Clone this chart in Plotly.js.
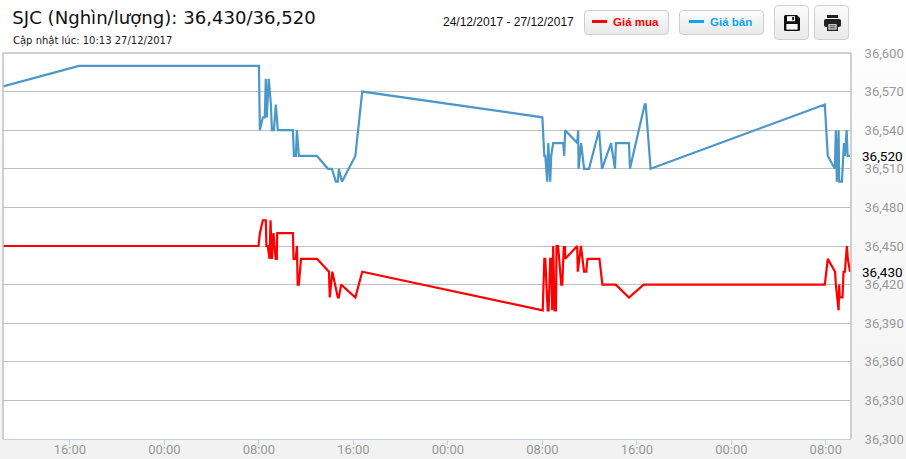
<!DOCTYPE html>
<html><head><meta charset="utf-8">
<script src="https://cdn.plot.ly/plotly-3.0.1.min.js"></script>
<style>
html,body{margin:0;padding:0;width:906px;height:459px;overflow:hidden;background:linear-gradient(#ffffff 0,#fdfdfd 60px,#f2f2f2 459px);}
#chart{position:absolute;left:0;top:0;width:906px;height:459px;}
.btn{position:absolute;box-sizing:border-box;border:1px solid #cfcfcf;border-radius:4px;background:linear-gradient(#fbfbfb,#e9e9e9);}
.leg{top:10px;height:25px;font:bold 11.5px "Liberation Sans",Arial,sans-serif;line-height:23px;}
.leg i{position:absolute;left:7px;top:9px;width:15px;height:3px;}
.leg span{position:absolute;left:28px;top:0;white-space:nowrap;}
.ico{top:5px;width:35px;height:35px;}
.ico svg{position:absolute;left:9px;top:9px;}
</style></head><body>
<div id="chart"></div>
<div class="btn leg" style="left:584px;width:85px;color:#ff0000"><i style="background:#ff0000"></i><span>Giá mua</span></div>
<div class="btn leg" style="left:679px;width:85px;color:#0aa5f5"><i style="background:#0aa5f5;left:9px"></i><span style="left:30px">Giá bán</span></div>
<div class="btn ico" style="left:774px"><svg width="16" height="16" viewBox="0 0 16 16"><path d="M0 1.5A1.5 1.5 0 0 1 1.5 0H13l3 3v11.5a1.5 1.5 0 0 1-1.5 1.5h-13A1.5 1.5 0 0 1 0 14.5z" fill="#111"/><rect x="3" y="1.2" width="8" height="5" fill="#fff"/><rect x="8.2" y="2" width="1.8" height="3.2" fill="#111"/><rect x="2.4" y="9" width="11.2" height="5.6" fill="#fff"/></svg></div>
<div class="btn ico" style="left:814px"><svg width="17" height="16" viewBox="0 0 17 16"><rect x="3" y="0" width="11" height="3" fill="#222"/><rect x="0" y="4" width="17" height="8" rx="2" fill="#222"/><rect x="3" y="8" width="11" height="8" fill="#222"/><rect x="4.4" y="9.2" width="8.2" height="5.4" fill="#eee"/><rect x="5.4" y="10.4" width="6.2" height="1" fill="#222"/><rect x="5.4" y="12.4" width="6.2" height="1" fill="#222"/></svg></div>
<script>
var sellTimes = ["2017-12-24 10:20","2017-12-24 16:46","2017-12-25 08:00","2017-12-25 08:05","2017-12-25 08:20","2017-12-25 08:30","2017-12-25 08:35","2017-12-25 08:40","2017-12-25 08:50","2017-12-25 09:01","2017-12-25 09:06","2017-12-25 09:16","2017-12-25 09:26","2017-12-25 09:36","2017-12-25 10:53","2017-12-25 10:58","2017-12-25 11:08","2017-12-25 11:13","2017-12-25 11:23","2017-12-25 12:55","2017-12-25 13:51","2017-12-25 14:11","2017-12-25 14:31","2017-12-25 14:41","2017-12-25 14:46","2017-12-25 15:02","2017-12-25 16:10","2017-12-25 16:45","2017-12-26 08:00","2017-12-26 08:10","2017-12-26 08:15","2017-12-26 08:25","2017-12-26 08:30","2017-12-26 08:40","2017-12-26 08:45","2017-12-26 08:55","2017-12-26 09:46","2017-12-26 09:51","2017-12-26 09:56","2017-12-26 10:57","2017-12-26 11:02","2017-12-26 11:04","2017-12-26 11:17","2017-12-26 11:32","2017-12-26 11:57","2017-12-26 12:48","2017-12-26 13:03","2017-12-26 13:49","2017-12-26 14:09","2017-12-26 14:14","2017-12-26 15:20","2017-12-26 15:25","2017-12-26 16:40","2017-12-26 16:45","2017-12-26 17:10","2017-12-27 07:55","2017-12-27 08:10","2017-12-27 08:46","2017-12-27 08:51","2017-12-27 08:56","2017-12-27 09:05","2017-12-27 09:08","2017-12-27 09:22","2017-12-27 09:32","2017-12-27 09:37","2017-12-27 09:46","2017-12-27 09:51","2017-12-27 10:03"];
var sellValues = [36574,36590,36590,36540,36550,36550,36580,36550,36580,36560,36540,36540,36560,36540,36540,36520,36520,36540,36520,36520,36510,36510,36500,36500,36510,36500,36520,36570,36550,36520,36520,36500,36530,36500,36520,36530,36530,36520,36540,36530,36540,36510,36530,36510,36510,36540,36510,36530,36510,36530,36530,36510,36560,36560,36510,36560,36520,36510,36540,36500,36540,36500,36500,36530,36520,36540,36520,36520];
var buyTimes = ["2017-12-24 10:20","2017-12-25 07:58","2017-12-25 08:05","2017-12-25 08:20","2017-12-25 08:35","2017-12-25 08:38","2017-12-25 08:45","2017-12-25 08:54","2017-12-25 08:59","2017-12-25 09:06","2017-12-25 09:14","2017-12-25 09:25","2017-12-25 09:31","2017-12-25 09:33","2017-12-25 10:53","2017-12-25 10:56","2017-12-25 11:07","2017-12-25 11:13","2017-12-25 11:17","2017-12-25 11:23","2017-12-25 11:34","2017-12-25 12:55","2017-12-25 13:56","2017-12-25 14:00","2017-12-25 14:13","2017-12-25 14:41","2017-12-25 14:46","2017-12-25 14:58","2017-12-25 16:10","2017-12-25 16:45","2017-12-26 08:02","2017-12-26 08:10","2017-12-26 08:15","2017-12-26 08:27","2017-12-26 08:32","2017-12-26 08:40","2017-12-26 08:45","2017-12-26 08:50","2017-12-26 08:55","2017-12-26 09:02","2017-12-26 09:09","2017-12-26 09:12","2017-12-26 09:20","2017-12-26 09:25","2017-12-26 09:36","2017-12-26 09:41","2017-12-26 09:49","2017-12-26 09:52","2017-12-26 09:55","2017-12-26 09:56","2017-12-26 10:57","2017-12-26 11:00","2017-12-26 11:16","2017-12-26 11:32","2017-12-26 11:43","2017-12-26 11:49","2017-12-26 12:50","2017-12-26 13:05","2017-12-26 14:13","2017-12-26 15:20","2017-12-26 16:35","2017-12-27 07:55","2017-12-27 08:10","2017-12-27 08:47","2017-12-27 08:51","2017-12-27 09:05","2017-12-27 09:08","2017-12-27 09:11","2017-12-27 09:25","2017-12-27 09:30","2017-12-27 09:37","2017-12-27 09:47","2017-12-27 09:52","2017-12-27 10:03"];
var buyValues = [36450,36450,36460,36470,36470,36450,36450,36440,36470,36440,36460,36440,36440,36460,36460,36440,36440,36450,36420,36420,36440,36440,36430,36410,36430,36410,36410,36420,36410,36430,36400,36440,36440,36400,36400,36440,36440,36400,36450,36400,36400,36450,36450,36440,36420,36420,36450,36440,36450,36440,36450,36430,36450,36430,36430,36440,36440,36420,36420,36410,36420,36420,36440,36430,36420,36400,36420,36410,36410,36430,36430,36450,36440,36430];
var yTicks = [36300,36330,36360,36390,36420,36450,36480,36510,36540,36570,36600];
var titleText = "SJC (Nghìn/lượng): 36,430/36,520";
var updatedText = "Cập nhật lúc: 10:13 27/12/2017";
var rangeText = "24/12/2017 - 27/12/2017";
var lastBuy = 36430, lastSell = 36520;

function fmt(v){return String(v).replace(/(\d\d)(\d{3})$/,"$1,$2");}
var labelFont = {family:"Roboto, sans-serif", size:13, color:"#999999"};
var curFont = {family:"Roboto, sans-serif", size:13.5, color:"#000000"};
Plotly.newPlot("chart", [
  {x:sellTimes, y:sellValues, type:"scatter", mode:"lines", name:"Giá bán", line:{color:"#4b97c8", width:2.2, shape:"linear"}},
  {x:buyTimes, y:buyValues, type:"scatter", mode:"lines", name:"Giá mua", line:{color:"#ff0000", width:2.2, shape:"linear"}}
], {
  width:906, height:459, showlegend:false,
  paper_bgcolor:"rgba(0,0,0,0)", plot_bgcolor:"#ffffff",
  margin:{l:3, r:55, t:53, b:20, pad:0},
  title:{text:titleText, x:10/906, xanchor:"left", xref:"paper", y:1-18/459, yanchor:"middle", font:{family:"DejaVu Sans, sans-serif", size:18.1, color:"#111111"}},
  xaxis:{type:"date", range:["2017-12-24 10:20","2017-12-27 10:08"], dtick:8*3600000, tick0:"2017-12-24 00:00", tickformat:"%H:%M",
    showgrid:false, zeroline:false, showline:true, linecolor:"#c0d0e0", linewidth:1,
    ticks:"outside", ticklen:5, tickcolor:"#c0d0e0", tickfont:labelFont, ticklabelstandoff:-7, mirror:false},
  yaxis:{side:"right", range:[36300,36600], tickmode:"array", tickvals:yTicks, ticktext:yTicks.map(fmt),
    showgrid:true, gridcolor:"#c0c0c0", gridwidth:1, zeroline:false, showline:false, ticks:"outside", ticklen:10, tickcolor:"rgba(0,0,0,0)", tickfont:labelFont},
  shapes:[
    {type:"line", xref:"paper", yref:"paper", x0:0, x1:0, y0:0, y1:1, line:{color:"#c0c0c0", width:1.5}},
    {type:"line", xref:"paper", yref:"paper", x0:1, x1:1, y0:0, y1:1, line:{color:"#c0c0c0", width:1.5}},
    {type:"line", xref:"paper", yref:"paper", x0:0, x1:1, y0:1, y1:1, line:{color:"#c0c0c0", width:1.5}}
  ],
  annotations:[
    {text:updatedText, xref:"paper", yref:"paper", x:7.5/848, xanchor:"left", y:1+(53-41.5)/386, yanchor:"middle", showarrow:false, font:{family:"DejaVu Sans, sans-serif", size:10, color:"#222222"}},
    {text:rangeText, xref:"paper", yref:"paper", x:(441-3)/848, xanchor:"left", y:1+(53-22)/386, yanchor:"middle", showarrow:false, font:{family:"Liberation Sans, Arial, sans-serif", size:12, color:"#111111"}},
    {text:fmt(lastSell), xref:"paper", yref:"y", x:1, xanchor:"left", xshift:9, y:lastSell, yanchor:"middle", showarrow:false, font:curFont},
    {text:fmt(lastBuy), xref:"paper", yref:"y", x:1, xanchor:"left", xshift:9, y:lastBuy, yanchor:"middle", showarrow:false, font:curFont}
  ]
}, {displayModeBar:false, staticPlot:true});
</script>
</body></html>
